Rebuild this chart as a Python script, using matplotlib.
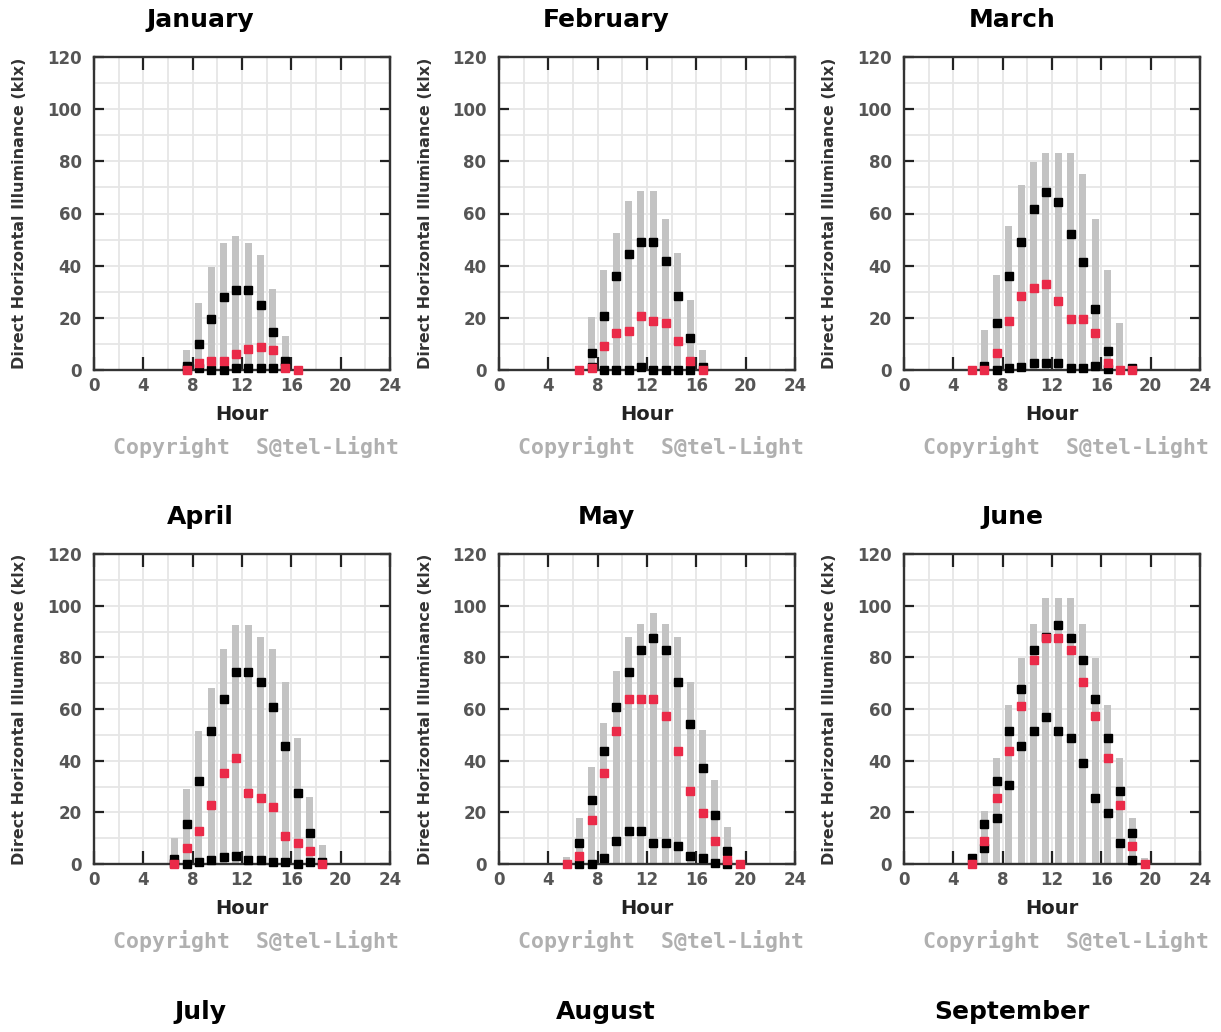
import numpy as np
import matplotlib
matplotlib.use("Agg")
import matplotlib.pyplot as plt
from matplotlib.ticker import MultipleLocator

nan = np.nan

# data (klx), hours are bar centres
months = ["January", "February", "March", "April", "May", "June"]
months_below = ["July", "August", "September"]

jan_hours = [7.5, 8.5, 9.5, 10.5, 11.5, 12.5, 13.5, 14.5, 15.5, 16.5]
jan_max = [7.8, 25.6, 39.4, 48.8, 51.3, 48.8, 44.0, 30.9, 13.1, nan]
jan_high = [1.5, 10.0, 19.4, 27.8, 30.6, 30.6, 24.8, 14.6, 3.5, nan]
jan_low = [0.5, 0.6, 0.0, 0.0, 0.6, 0.9, 0.9, 0.9, 1.0, nan]
jan_mean = [0.0, 2.5, 3.5, 3.5, 6.3, 8.1, 9.0, 7.5, 0.6, 0.0]

feb_hours = [6.5, 7.5, 8.5, 9.5, 10.5, 11.5, 12.5, 13.5, 14.5, 15.5, 16.5]
feb_max = [nan, 20.2, 38.3, 52.6, 64.9, 68.6, 68.6, 57.9, 45.0, 26.8, 7.7]
feb_high = [nan, 6.4, 20.8, 36.0, 44.3, 49.2, 49.2, 41.8, 28.5, 12.1, 1.3]
feb_low = [nan, 1.0, 0.0, 0.0, 0.0, 1.0, 0.0, 0.0, 0.0, 0.0, nan]
feb_mean = [0.0, 0.6, 9.3, 14.0, 15.0, 20.7, 18.8, 17.9, 11.1, 3.6, 0.0]

mar_hours = [5.5, 6.5, 7.5, 8.5, 9.5, 10.5, 11.5, 12.5, 13.5, 14.5, 15.5, 16.5, 17.5, 18.5]
mar_max = [nan, 15.3, 36.4, 55.2, 71.1, 79.6, 83.3, 83.3, 83.3, 75.0, 57.9, 38.3, 18.1, nan]
mar_high = [nan, 1.7, 17.9, 36.0, 48.9, 61.6, 68.1, 64.5, 52.0, 41.5, 23.4, 7.4, nan, 0.6]
mar_low = [nan, nan, 0.0, 0.6, 1.3, 2.5, 2.8, 2.8, 0.6, 0.6, 1.7, 0.3, nan, nan]
mar_mean = [0.0, 0.0, 6.6, 18.8, 28.5, 31.3, 33.0, 26.4, 19.5, 19.5, 14.0, 2.8, 0.0, 0.0]

apr_hours = [6.5, 7.5, 8.5, 9.5, 10.5, 11.5, 12.5, 13.5, 14.5, 15.5, 16.5, 17.5, 18.5]
apr_max = [9.9, 28.9, 51.6, 68.0, 83.1, 92.5, 92.5, 87.7, 83.1, 70.6, 48.9, 25.8, 7.4]
apr_high = [1.8, 15.5, 32.3, 51.5, 63.9, 74.5, 74.5, 70.6, 60.9, 45.8, 27.6, 11.9, 0.6]
apr_low = [0.5, 0.0, 0.6, 1.5, 2.6, 3.2, 1.5, 1.5, 0.6, 0.6, 0.0, 0.6, nan]
apr_mean = [0.0, 6.3, 12.9, 22.8, 35.1, 40.9, 27.6, 25.7, 21.9, 10.8, 8.0, 5.2, 0.0]

may_hours = [5.5, 6.5, 7.5, 8.5, 9.5, 10.5, 11.5, 12.5, 13.5, 14.5, 15.5, 16.5, 17.5, 18.5, 19.5]
may_max = [2.6, 17.7, 37.4, 54.7, 74.7, 88.0, 92.8, 97.3, 92.8, 88.0, 70.6, 51.9, 32.5, 14.2, nan]
may_high = [nan, 8.0, 24.8, 43.9, 60.9, 74.2, 82.8, 87.6, 82.8, 70.6, 54.2, 37.0, 19.0, 5.2, nan]
may_low = [nan, 0.0, 0.0, 2.5, 9.0, 12.8, 12.8, 8.0, 8.0, 7.0, 3.2, 2.5, 0.5, 0.0, nan]
may_mean = [0.0, 3.2, 17.0, 35.1, 51.5, 63.7, 63.7, 63.7, 57.3, 43.7, 28.4, 19.9, 9.0, 1.5, 0.0]

jun_hours = [5.5, 6.5, 7.5, 8.5, 9.5, 10.5, 11.5, 12.5, 13.5, 14.5, 15.5, 16.5, 17.5, 18.5, 19.5]
jun_max = [3.5, 20.5, 41.2, 61.5, 79.6, 92.8, 102.8, 102.8, 102.8, 92.8, 79.6, 61.5, 41.2, 18.0, 2.5]
jun_high = [2.5, 15.4, 32.3, 51.5, 67.7, 82.8, 88.0, 92.5, 87.6, 79.0, 63.9, 48.6, 28.4, 11.9, nan]
jun_low = [nan, 6.1, 18.0, 30.6, 45.8, 51.5, 57.0, 51.5, 48.6, 39.0, 25.7, 19.9, 8.0, 1.5, nan]
jun_mean = [0.0, 9.0, 25.7, 43.9, 61.2, 79.0, 87.6, 87.6, 82.8, 70.6, 57.3, 40.9, 22.8, 7.1, 0.0]

panels = [
    (jan_hours, jan_max, jan_high, jan_low, jan_mean),
    (feb_hours, feb_max, feb_high, feb_low, feb_mean),
    (mar_hours, mar_max, mar_high, mar_low, mar_mean),
    (apr_hours, apr_max, apr_high, apr_low, apr_mean),
    (may_hours, may_max, may_high, may_low, may_mean),
    (jun_hours, jun_max, jun_high, jun_low, jun_mean),
]

W, H = 1221, 1032
fig = plt.figure(figsize=(W / 100, H / 100), dpi=100)


def fx(x):
    return x / W


def fy(y):
    return 1 - y / H


col_left = [94, 499, 904]
col_width = 296
row_top = [57, 554]
row_bottom = [370, 864]
title_x = [200, 606, 1012]
title_y = [20, 517, 1012]

for i, (hrs, mx, hi, lo, mean) in enumerate(panels):
    r, c = divmod(i, 3)
    left = col_left[c]
    ax = fig.add_axes([fx(left), fy(row_bottom[r]), col_width / W,
                       (row_bottom[r] - row_top[r]) / H])
    ax.bar(hrs, mx, width=0.56, color="#c3c3c3", zorder=2)
    ax.plot(hrs, hi, "s", color="black", ms=6, zorder=3, clip_on=False)
    ax.plot(hrs, lo, "s", color="black", ms=6, zorder=3, clip_on=False)
    ax.plot(hrs, mean, "s", color="#ea2a48", ms=6, zorder=4, clip_on=False)

    ax.set_xlim(0, 24)
    ax.set_ylim(0, 120)
    ax.xaxis.set_major_locator(MultipleLocator(4))
    ax.yaxis.set_major_locator(MultipleLocator(20))
    ax.xaxis.set_minor_locator(MultipleLocator(2))
    ax.yaxis.set_minor_locator(MultipleLocator(10))
    ax.grid(which="both", color="#e6e6e6", lw=1.3, zorder=0)
    ax.set_axisbelow(True)
    ax.tick_params(which="major", direction="in", top=True, right=True,
                   width=1.6, color="#222222", labelsize=12,
                   labelcolor="#555555")
    ax.tick_params(axis="x", which="major", length=9.5, pad=5)
    ax.tick_params(axis="y", which="major", length=7.5, pad=9)
    ax.tick_params(which="minor", length=0)
    for lab in ax.get_xticklabels() + ax.get_yticklabels():
        lab.set_fontweight("bold")
    for sp in ax.spines.values():
        sp.set_linewidth(1.7)
        sp.set_color("#333333")

    cx = left + col_width / 2
    ymid = (row_top[r] + row_bottom[r]) / 2
    fig.text(fx(left - 74), fy(ymid), "Direct Horizontal Illuminance (klx)",
             rotation=90, ha="center", va="center", fontsize=11.5,
             fontweight="bold", color="#333333")
    fig.text(fx(cx), fy(row_bottom[r] + 45), "Hour", ha="center",
             va="center", fontsize=14, fontweight="bold", color="#222222")
    fig.text(fx(cx + 14), fy(row_bottom[r] + 77), "Copyright  S@tel-Light",
             ha="center", va="center", fontsize=15.5, fontweight="bold",
             family="DejaVu Sans Mono", color="#b0b0b0")
    fig.text(fx(title_x[c]), fy(title_y[r]), months[i], ha="center",
             va="center", fontsize=18, fontweight="bold", color="black")

for c, name in enumerate(months_below):
    fig.text(fx(title_x[c]), fy(title_y[2]), name, ha="center", va="center",
             fontsize=18, fontweight="bold", color="black")

fig.savefig("out.png", dpi=100)
